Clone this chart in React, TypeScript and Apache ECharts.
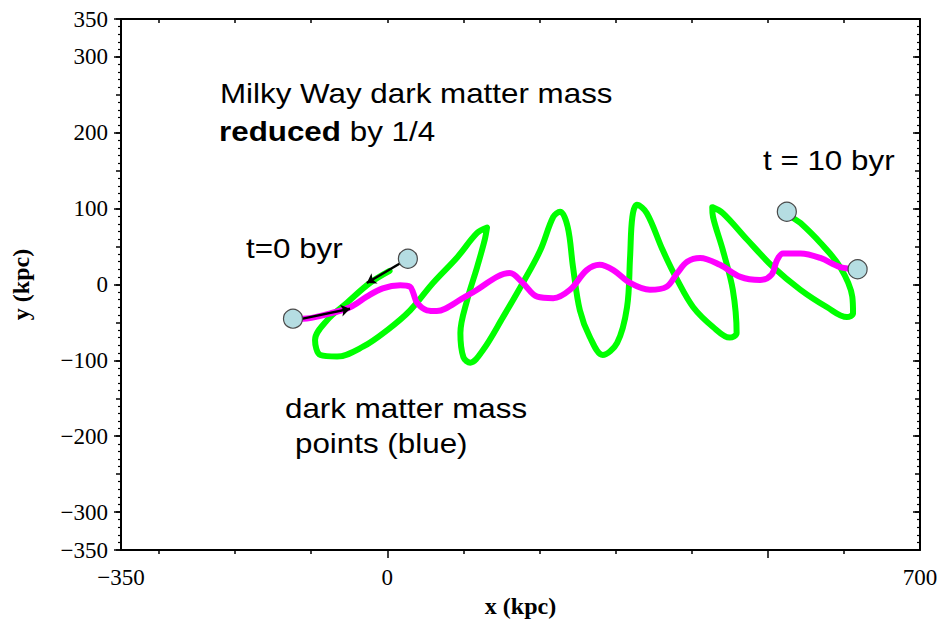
import React, { useEffect, useRef } from 'react';
import * as echarts from 'echarts';

const X_MIN = -350;
const X_MAX = 700;
const Y_MIN = -350;
const Y_MAX = 350;

const xLabelValues = [-350, 0, 700];
const xLongTicks = [0, 500];
const xShortTicks = [-300, -200, -100, 100, 200, 300, 400, 600];
const xTopTicks = [-300, -200, -100, 0, 100, 200, 300, 400, 500, 600];
const yLabelValues = [-350, -300, -200, -100, 0, 100, 200, 300, 350];
const yLongTicks = [-350, -300, -200, -100, 0, 100, 200, 300, 350];

// green orbit (kpc)
const greenTrack: number[][] = [
  [3, 18], [-23, 2], [-53, -24], [-79, -47], [-95, -73], [-88, -93], [-66, -95],
  [-32, -82], [0, -60], [30, -34], [60, 2], [92, 36], [118, 68], [131, 75],
  [128, 59], [118, 23], [105, -20], [96, -64], [100, -96], [109, -103], [126, -86],
  [152, -43], [178, 2], [201, 45], [218, 89], [227, 96], [237, 76], [244, 23],
  [253, -34], [266, -69], [283, -93], [302, -77], [315, -30], [319, 36], [322, 89],
  [328, 105], [341, 94], [362, 45], [381, 6], [402, -30], [428, -56], [450, -70],
  [459, -64], [454, -7], [441, 45], [428, 89], [427, 102], [441, 94], [473, 59],
  [507, 23], [543, -7], [578, -30], [604, -43], [612, -38], [611, -16], [595, 23],
  [569, 55], [543, 81], [533, 88], [525, 96],
];

// magenta orbit (kpc)
const magentaTrack: number[][] = [
  [-124, -45], [-111, -45], [-75, -38], [-49, -30], [-27, -16], [-6, -5], [17, -1],
  [30, -3], [34, -11], [39, -24], [52, -34], [65, -35], [76, -32], [96, -20],
  [118, -7], [144, 10], [161, 15], [178, 2], [197, -16], [218, -18], [240, -7],
  [262, 19], [279, 26], [297, 19], [319, 2], [345, -7], [367, -3], [381, 15],
  [394, 30], [411, 35], [437, 26], [464, 10], [490, 6], [505, 13], [512, 32],
  [520, 41], [543, 41], [569, 35], [595, 23], [618, 20],
];

const massPoints: number[][] = [[-124, -45], [27, 34], [525, 96], [618, 20]];

const arrowSegments: number[][][] = [
  [[27, 34], [-27, 2]],
  [[-111, -45], [-49, -32]],
];

const SERIF = '"Liberation Serif", "Times New Roman", serif';
const SANS = '"Liberation Sans", Arial, sans-serif';

const minus = (v: number) => String(v).replace('-', '\u2212');

export default function App() {
  const ref = useRef<HTMLDivElement>(null);
  useEffect(() => {
    if (!ref.current) return;
    const chart = echarts.init(ref.current, undefined, { renderer: 'svg' });
    const black = '#000';
    const baseX = {
      type: 'value',
      min: X_MIN,
      max: X_MAX,
      splitLine: { show: false },
      gridIndex: 0,
    };
    const baseY = {
      type: 'value',
      min: Y_MIN,
      max: Y_MAX,
      interval: 50,
      splitLine: { show: false },
      gridIndex: 0,
    };
    const txt = (text: string, x: number, y: number) => ({
      type: 'text',
      x,
      y,
      scaleX: 1.12,
      z: 100,
      style: {
        text,
        fontSize: 28,
        fontFamily: SANS,
        fill: black,
        align: 'left',
        verticalAlign: 'middle',
        textAlign: 'left',
        textVerticalAlign: 'middle',
      },
    });
    const option: any = {
      animation: false,
      backgroundColor: '#fff',
      grid: { left: 121, right: 23, top: 19, bottom: 71, outerBoundsMode: 'none', containLabel: false },
      xAxis: [
        {
          ...baseX,
          position: 'bottom',
          name: 'x (kpc)',
          nameLocation: 'middle',
          nameGap: 44,
          nameTextStyle: { fontFamily: SERIF, fontWeight: 'bold', fontSize: 24, color: black },
          axisLine: { show: true, onZero: false, lineStyle: { color: black, width: 2 } },
          axisTick: { show: true, customValues: xLongTicks, length: 8, lineStyle: { color: black, width: 1.5 } },
          axisLabel: {
            show: true,
            customValues: xLabelValues,
            margin: 16,
            fontFamily: SERIF,
            fontSize: 23,
            color: black,
            formatter: (v: number) => minus(v),
          },
        },
        {
          ...baseX,
          position: 'bottom',
          axisLine: { show: false, onZero: false },
          axisTick: { show: true, customValues: xShortTicks, length: 4, lineStyle: { color: black, width: 1.5 } },
          axisLabel: { show: false },
        },
        {
          ...baseX,
          position: 'top',
          axisLine: { show: true, onZero: false, lineStyle: { color: black, width: 2 } },
          axisTick: { show: true, inside: true, customValues: xTopTicks, length: 4, lineStyle: { color: black, width: 1.5 } },
          axisLabel: { show: false },
        },
      ],
      yAxis: [
        {
          ...baseY,
          position: 'left',
          name: 'y (kpc)',
          nameLocation: 'middle',
          nameGap: 88,
          nameRotate: 90,
          nameTextStyle: { fontFamily: SERIF, fontWeight: 'bold', fontSize: 24, color: black },
          axisLine: { show: true, onZero: false, lineStyle: { color: black, width: 2 } },
          axisTick: { show: true, length: 5, lineStyle: { color: black, width: 1.5 } },
          minorTick: { show: true, splitNumber: 5, length: 3, lineStyle: { color: black, width: 1.2 } },
          axisLabel: {
            show: true,
            customValues: yLabelValues,
            margin: 13,
            fontFamily: SERIF,
            fontSize: 23,
            color: black,
            formatter: (v: number) => minus(v),
          },
        },
        {
          ...baseY,
          position: 'left',
          axisLine: { show: false, onZero: false },
          axisTick: { show: true, customValues: yLongTicks, length: 7, lineStyle: { color: black, width: 1.5 } },
          axisLabel: { show: false },
        },
        {
          ...baseY,
          position: 'right',
          axisLine: { show: true, onZero: false, lineStyle: { color: black, width: 2 } },
          axisTick: { show: true, inside: true, length: 5, lineStyle: { color: black, width: 1.5 } },
          minorTick: { show: true, splitNumber: 5, length: 3, lineStyle: { color: black, width: 1.2 } },
          axisLabel: { show: false },
        },
        {
          ...baseY,
          position: 'right',
          axisLine: { show: false, onZero: false },
          axisTick: { show: true, inside: true, customValues: yLongTicks, length: 7, lineStyle: { color: black, width: 1.5 } },
          axisLabel: { show: false },
        },
      ],
      series: [
        {
          name: 'green orbit',
          type: 'line',
          xAxisIndex: 0,
          yAxisIndex: 0,
          data: greenTrack,
          smooth: 0.35,
          showSymbol: false,
          symbol: 'none',
          lineStyle: { color: '#00ff00', width: 6, cap: 'round', join: 'round' },
          z: 2,
        },
        {
          name: 'magenta orbit',
          type: 'line',
          xAxisIndex: 0,
          yAxisIndex: 0,
          data: magentaTrack,
          smooth: 0.35,
          showSymbol: false,
          symbol: 'none',
          lineStyle: { color: '#ff00ff', width: 6, cap: 'round', join: 'round' },
          z: 3,
        },
        {
          name: 'arrows',
          type: 'lines',
          coordinateSystem: 'cartesian2d',
          xAxisIndex: 0,
          yAxisIndex: 0,
          data: arrowSegments.map((c) => ({ coords: c })),
          symbol: ['none', 'arrow'],
          symbolSize: 9,
          lineStyle: { color: black, width: 2.5, opacity: 1 },
          z: 4,
        },
        {
          name: 'mass points',
          type: 'scatter',
          xAxisIndex: 0,
          yAxisIndex: 0,
          data: massPoints,
          symbol: 'circle',
          symbolSize: 19,
          itemStyle: { color: '#b5dde2', borderColor: '#4a4a4a', borderWidth: 1.2, opacity: 1 },
          z: 5,
        },
      ],
      graphic: [
        txt('Milky Way dark matter mass', 220, 93),
        {
          type: 'text',
          x: 219,
          y: 131,
          scaleX: 1.12,
          z: 100,
          style: {
            text: '{b|reduced} {n|by 1/4}',
            fontSize: 28,
            fontFamily: SANS,
            fill: black,
            align: 'left',
            verticalAlign: 'middle',
            rich: {
              b: { fontWeight: 'bold', fontSize: 28, fontFamily: SANS, fill: black, lineHeight: 32 },
              n: { fontSize: 28, fontFamily: SANS, fill: black, lineHeight: 32 },
            },
          },
        },
        txt('t = 10 byr', 763, 160),
        txt('t=0 byr', 246, 248),
        txt('dark matter mass', 285, 408),
        txt('points (blue)', 295, 443),
      ],
    };
    chart.setOption(option);
    return () => chart.dispose();
  }, []);
  return (
    <div
      ref={ref}
      style={{ position: 'fixed', left: 0, top: 0, width: 943, height: 621, background: '#fff' }}
    />
  );
}
